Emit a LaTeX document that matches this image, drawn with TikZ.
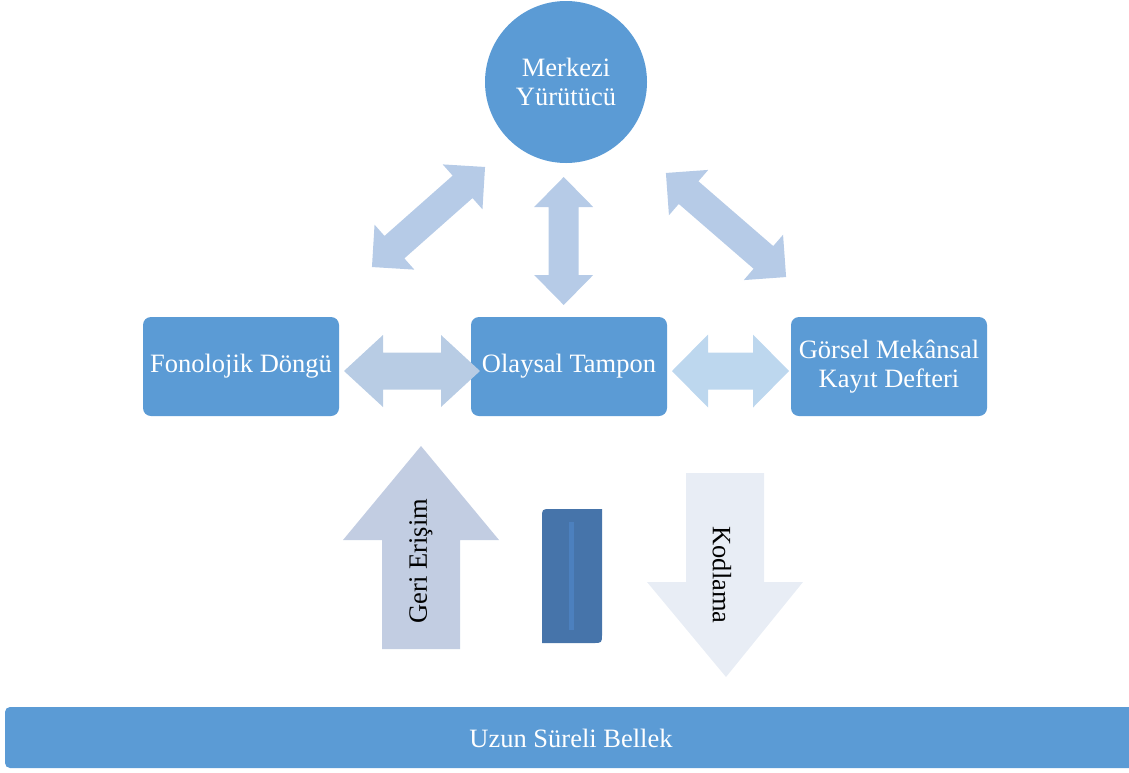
\documentclass[tikz,border=0pt]{standalone}
\usepackage{fontspec}
\setmainfont{Liberation Serif}
\definecolor{mainblue}{HTML}{5B9BD5}
\definecolor{diagblue}{HTML}{B6CBE7}
\definecolor{leftlink}{HTML}{B8CCE4}
\definecolor{rightlink}{HTML}{BDD7EE}
\definecolor{upfill}{HTML}{C2CDE2}
\definecolor{downfill}{HTML}{E8EDF5}
\definecolor{bookblue}{HTML}{4674AA}
\definecolor{bookline}{HTML}{4C80BE}
% double-headed block arrow: centre x, centre y, angle, length, shaft width, head width, head length, colour
\newcommand\dblblock[8]{%
  \fill[#8, shift={(#1,#2)}, rotate=#3]
    ({-#4/2},0) -- ({-#4/2+#7},{#6/2}) -- ({-#4/2+#7},{#5/2}) --
    ({#4/2-#7},{#5/2}) -- ({#4/2-#7},{#6/2}) -- ({#4/2},0) --
    ({#4/2-#7},{-#6/2}) -- ({#4/2-#7},{-#5/2}) --
    ({-#4/2+#7},{-#5/2}) -- ({-#4/2+#7},{-#6/2}) -- cycle;}
\tikzset{
  bigfont/.style={font=\fontsize{26.5}{29}\selectfont},
  txt/.style={text=white, bigfont, align=center},
  module/.style={txt, fill=mainblue, rounded corners=8pt, minimum width=196pt, minimum height=99pt, inner sep=0pt},
}
\begin{document}
\begin{tikzpicture}[x=1pt, y=-1pt]
\useasboundingbox (0,0) rectangle (1129,772);

% central executive
\node[txt, circle, fill=mainblue, minimum size=162pt, inner sep=0pt] (ce) at (566,82) {Merkezi\\Yürütücü};

% slave systems
\node[module] (pl) at (241,366.5) {Fonolojik Döngü};
\node[module] (eb) at (569,366.5) {Olaysal Tampon};
\node[module] (vs) at (889,366.5) {Görsel Mekânsal\\Kayıt Defteri};

% links to the central executive
\dblblock{428.5}{217}{41.5}{151}{30}{60}{30}{diagblue}
\dblblock{563.7}{241}{90}{128}{30}{59}{30}{diagblue}
\dblblock{726}{225}{-40.9}{159}{30}{60}{30}{diagblue}

% links between the slave systems
\dblblock{412}{371}{0}{136}{37}{72}{39}{leftlink}
\dblblock{730.5}{371}{0}{117}{37}{73}{36}{rightlink}

% retrieval (up) and encoding (down)
\fill[upfill] (421,446) -- (499,540) -- (460,540) -- (460,649) -- (382,649) -- (382,540) -- (343,540) -- cycle;
\node[rotate=90, bigfont] (ret) at (421,561) {Geri Erişim};
\fill[downfill] (686,473) -- (764,473) -- (764,582) -- (803,582) -- (726,677) -- (647,582) -- (686,582) -- cycle;
\node[rotate=-90, bigfont] (enc) at (722,575) {Kodlama};

% book
\fill[bookblue] (542,643) -- (542,518) .. controls (542,509) .. (551,509) -- (602,509) -- (602,634) .. controls (602,643) .. (593,643) -- cycle;
\fill[bookline] (569,522) rectangle (574,630);

% long-term memory
\fill[mainblue, rounded corners=5pt] (5,707) rectangle (1150,768);
\node[txt] (ltm) at (571,738.5) {Uzun Süreli Bellek};
\end{tikzpicture}
\end{document}
